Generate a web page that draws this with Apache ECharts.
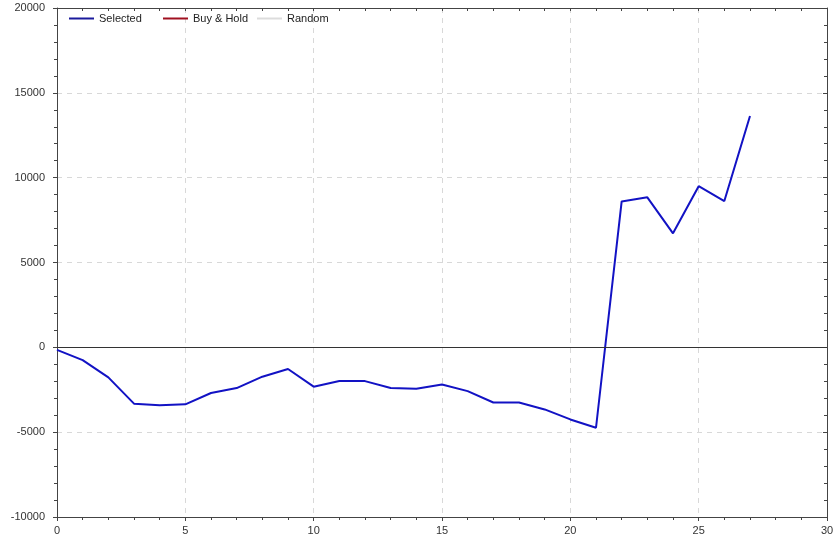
<!DOCTYPE html>
<html>
<head>
<meta charset="utf-8">
<script src="https://cdn.jsdelivr.net/npm/echarts@6/dist/echarts.min.js"></script>
<style>html,body{margin:0;padding:0;background:#fff}#c{width:839px;height:541px}</style>
</head>
<body>
<div id="c"></div>
<script>
const periods = [0,1,2,3,4,5,6,7,8,9,10,11,12,13,14,15,16,17,18,19,20,21,22,23,24,25,26,27];
const selected = [-150,-750,-1770,-3320,-3420,-3360,-2690,-2400,-1730,-1280,-2320,-1990,-1990,-2400,-2440,-2190,-2580,-3250,-3250,-3660,-4250,-4740,8600,8840,6720,9500,8620,13630];
const buyHold = [];
const randomS = [];
const seriesNames = ['Selected','Buy & Hold','Random'];

const chart = echarts.init(document.getElementById('c'), null, {renderer:'canvas'});
const lbl = {color:'#333', fontSize:11, fontFamily:'Arial, "Liberation Sans", sans-serif'};
const axisLine = {show:true, onZero:false, lineStyle:{color:'#444', width:1}};
const split = {show:true, lineStyle:{color:'#d8d8d8', type:[5,5], width:1}};
const tick = {show:true, inside:false, length:4, lineStyle:{color:'#444'}};
const minor = {show:true, splitNumber:5, length:3, lineStyle:{color:'#444'}};
const legendBase = {top:13, padding:0, itemWidth:25, itemHeight:2, icon:'rect', itemGap:8,
  textStyle:{color:'#222', fontSize:11, fontFamily:'Arial, "Liberation Sans", sans-serif'}};
chart.setOption({
  animation:false,
  backgroundColor:'#fff',
  grid:{left:57, right:12, top:8, bottom:24, containLabel:false},
  legend:[
    Object.assign({left:69, data:[seriesNames[0]]}, legendBase),
    Object.assign({left:163, data:[seriesNames[1]]}, legendBase),
    Object.assign({left:257, data:[seriesNames[2]]}, legendBase)
  ],
  xAxis:[
    {type:'value', min:0, max:30, interval:5, position:'bottom',
     axisLine:axisLine, axisTick:tick, minorTick:minor, splitLine:split,
     axisLabel:Object.assign({margin:8}, lbl)},
    {type:'value', min:0, max:30, interval:5, position:'top',
     axisLine:axisLine, axisTick:{show:true, inside:true, length:3, lineStyle:{color:'#444'}},
     minorTick:{show:true, splitNumber:5, length:3, lineStyle:{color:'#444'}},
     splitLine:{show:false}, axisLabel:{show:false}}
  ],
  yAxis:[
    {type:'value', min:-10000, max:20000, interval:5000, position:'left',
     axisLine:axisLine, axisTick:tick, minorTick:minor, splitLine:split,
     axisLabel:Object.assign({margin:12, formatter:v=>String(v)}, lbl)},
    {type:'value', min:-10000, max:20000, interval:5000, position:'right',
     axisLine:axisLine, axisTick:{show:true, inside:true, length:4, lineStyle:{color:'#444'}},
     minorTick:{show:true, splitNumber:5, length:3, lineStyle:{color:'#444'}},
     splitLine:{show:false}, axisLabel:{show:false}}
  ],
  series:[
    {name:seriesNames[0], type:'line', xAxisIndex:0, yAxisIndex:0,
     data:periods.map((p,i)=>[p, selected[i]]), showSymbol:false, symbol:'none',
     lineStyle:{color:'#1212c4', width:2}, itemStyle:{color:'#1a1a9c'},
     markLine:{silent:true, symbol:['none','none'], label:{show:false},
       lineStyle:{color:'#333', type:'solid', width:1}, data:[{yAxis:0}]}},
    {name:seriesNames[1], type:'line', data:buyHold.map((v,i)=>[i,v]), showSymbol:false,
     lineStyle:{color:'#a01020', width:2}, itemStyle:{color:'#a01020'}},
    {name:seriesNames[2], type:'line', data:randomS.map((v,i)=>[i,v]), showSymbol:false,
     lineStyle:{color:'#dcdcdc', width:2}, itemStyle:{color:'#dcdcdc'}}
  ]
});
</script>
</body>
</html>
